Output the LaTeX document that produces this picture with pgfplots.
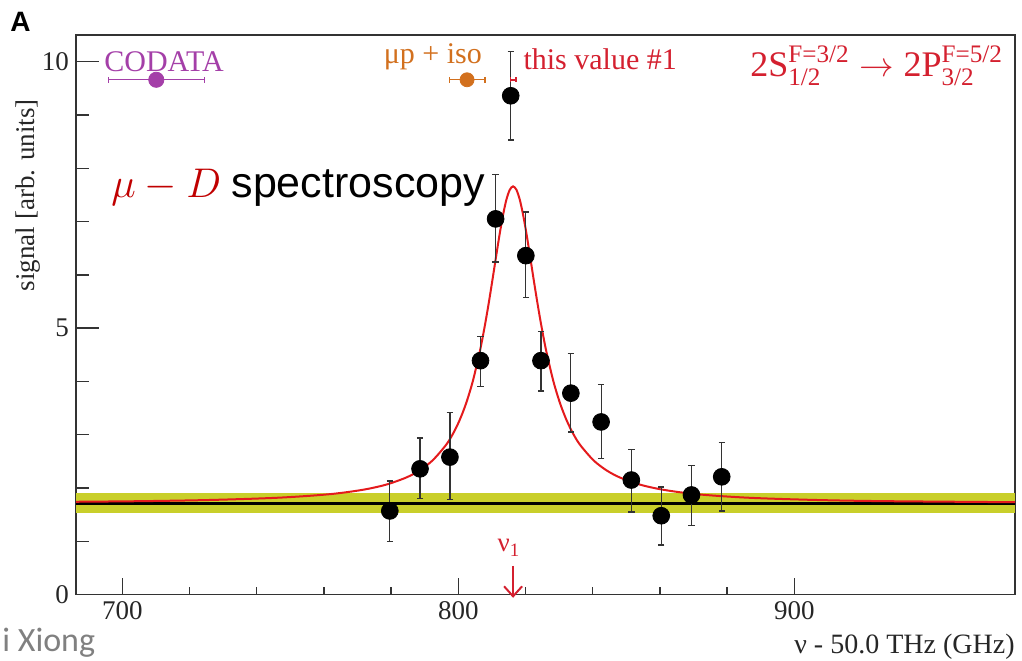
\documentclass[border=0pt]{standalone}
\usepackage{amsmath}
\usepackage{pgfplots}
\pgfplotsset{compat=1.18}
\usepackage{pgfplotstable}
\usetikzlibrary{arrows.meta}
\usepackage{fontspec}
\setmainfont{Liberation Serif}
\newfontfamily\arial{Liberation Sans}
\newfontfamily\calibri{Carlito}
\definecolor{codata}{HTML}{A43FA8}
\definecolor{muiso}{HTML}{D2701E}
\definecolor{tred}{HTML}{D4202F}
\definecolor{curvered}{HTML}{E41A1C}
\definecolor{band}{HTML}{C9CF2A}
\definecolor{muD}{HTML}{C00000}

\pgfplotstableread{
x y ep em
779.6 1.57 0.56 0.58
788.6 2.36 0.58 0.55
797.5 2.58 0.83 0.80
806.6 4.39 0.46 0.49
811.1 7.05 0.83 0.81
815.6 9.36 0.83 0.83
820.1 6.36 0.82 0.79
824.6 4.39 0.54 0.57
833.5 3.78 0.75 0.73
842.5 3.24 0.70 0.69
851.5 2.15 0.58 0.60
860.4 1.48 0.54 0.55
869.4 1.87 0.56 0.58
878.4 2.21 0.64 0.64
}\datatable

\pgfplotstableread{
x y
686.2 1.742
706.3 1.754
726.3 1.776
746.3 1.818
761.3 1.882
771.3 1.964
778.3 2.060
784.3 2.192
788.3 2.324
792.3 2.516
796.3 2.805
798.3 3.006
800.3 3.261
802.3 3.586
804.3 4.002
806.3 4.533
807.3 4.846
808.3 5.191
809.3 5.566
810.3 5.963
811.3 6.369
812.3 6.764
813.3 7.121
814.3 7.408
815.3 7.595
816.3 7.660
817.3 7.595
818.3 7.408
819.3 7.121
820.3 6.764
821.3 6.369
822.3 5.963
823.3 5.566
824.3 5.191
825.3 4.846
826.3 4.533
828.3 4.002
830.3 3.586
832.3 3.261
834.3 3.006
836.3 2.805
840.3 2.516
844.3 2.324
848.3 2.192
854.3 2.060
861.3 1.964
871.3 1.882
886.3 1.818
906.3 1.776
926.3 1.754
965.7 1.734
}\curvetable

\begin{document}
\begin{tikzpicture}
\begin{axis}[
  at={(38pt,-297.3pt)}, anchor=south west,
  scale only axis, width=469.5pt, height=279.8pt,
  xmin=686.2, xmax=965.7, ymin=0, ymax=10.5,
  xtick={700,800,900}, ytick={0,5,10},
  minor x tick num=4, minor y tick num=4,
  xtick pos=left, ytick pos=left, tick align=inside,
  major tick length=11.5pt, minor tick length=6.5pt,
  xtick style={/pgfplots/major tick length=8.5pt, /pgfplots/minor tick length=4pt},
  axis line style={draw=black!80, line width=0.8pt},
  every tick/.style={black!80, line width=0.7pt},
  tick label style={font=\fontsize{13.5}{14}\selectfont, text=black!85},
  /pgf/number format/assume math mode=true,
  clip mode=individual,
  xlabel={ν - 50.0 THz (GHz)},
  every axis x label/.style={at={(rel axis cs:1,0)}, anchor=north east, yshift=-19.5pt, inner sep=0pt, font=\fontsize{14}{16}\selectfont, text=black!85},
  ylabel={signal [arb. units]},
  every axis y label/.style={at={(rel axis cs:0,0.714)}, xshift=-24pt, rotate=90, anchor=center, inner sep=0pt, font=\fontsize{13.5}{16}\selectfont, text=black!85},
]
% background band and level
\addplot[fill=band, draw=none] coordinates {(686.2,1.54) (965.7,1.54) (965.7,1.90) (686.2,1.90)} -- cycle;
\addplot[black, line width=1.4pt, mark=none] coordinates {(686.2,1.71) (965.7,1.71)};
% fit curve
\addplot[curvered, line width=1pt, mark=none, smooth] table[x=x, y=y] {\curvetable};
% data
\addplot[only marks, mark=*, mark size=4.2pt, black,
  error bars/.cd, y dir=both, y explicit, error mark=|,
  error bar style={black!80, line width=0.6pt},
  error mark options={black!80, mark size=1.6pt, line width=0.6pt}]
  table[x=x, y=y, y error plus=ep, y error minus=em] {\datatable};
% CODATA
\addplot[only marks, mark=*, mark size=3.8pt, codata,
  error bars/.cd, x dir=both, x explicit, error mark=|,
  error bar style={codata, line width=0.7pt},
  error mark options={codata, mark size=1.5pt, line width=0.7pt}]
  coordinates {(710.1,9.66) +- (14.3,0)};
% mu p + iso
\addplot[only marks, mark=*, mark size=3.5pt, muiso,
  error bars/.cd, x dir=both, x explicit, error mark=|,
  error bar style={muiso, line width=0.7pt},
  error mark options={muiso, mark size=1.5pt, line width=0.7pt}]
  coordinates {(802.6,9.66) +- (5.3,0)};
% this value
\addplot[only marks, mark=*, mark size=0.01pt, tred,
  error bars/.cd, x dir=both, x explicit, error mark=|,
  error bar style={tred, line width=0.8pt},
  error mark options={tred, mark size=1.3pt, line width=0.8pt}]
  coordinates {(816.3,9.66) +- (0.8,0)};

\node[anchor=base, inner sep=0, text=codata, font=\fontsize{15}{16}\selectfont] at (axis cs:712.4,9.81) {CODATA};
\node[anchor=base, inner sep=0, text=muiso, font=\fontsize{15}{16}\selectfont] at (axis cs:792.4,9.96) {μp + iso};
\node[anchor=base west, inner sep=0, text=tred, font=\fontsize{15}{16}\selectfont] at (axis cs:819.3,9.85) {this value \#1};
\node[anchor=base west, inner sep=0, text=tred, font=\fontsize{18}{20}\selectfont] at (axis cs:886.8,9.72) {$\text{2S}^{\text{F=3/2}}_{\text{1/2}}\rightarrow\text{2P}^{\text{F=5/2}}_{\text{3/2}}$};
\node[anchor=base west, inner sep=0, font=\fontsize{20.5}{24}\selectfont] at (axis cs:696.6,7.45) {\textcolor{muD}{$\mu - D$} {\arial\fontsize{21.5}{24}\selectfont spectroscopy}};
\node[anchor=base, inner sep=0, text=tred, font=\fontsize{13.5}{14}\selectfont] at (axis cs:815.1,0.80) {ν\textsubscript{1}};
\draw[tred, line width=1pt, -{Straight Barb[length=5pt,width=9pt]}] (axis cs:816.3,0.54) -- (axis cs:816.3,-0.06);
\end{axis}
\node[anchor=base west, inner sep=0, font=\arial\bfseries\fontsize{14}{14}\selectfont] at (5pt,-15.5pt) {A};
\node[anchor=base west, inner sep=0, text=black!50, font=\calibri\fontsize{17}{18}\selectfont] at (1pt,-325.5pt) {i Xiong};
\pgfresetboundingbox
\useasboundingbox (0,0) rectangle (511pt,-330pt);
\end{tikzpicture}
\end{document}
